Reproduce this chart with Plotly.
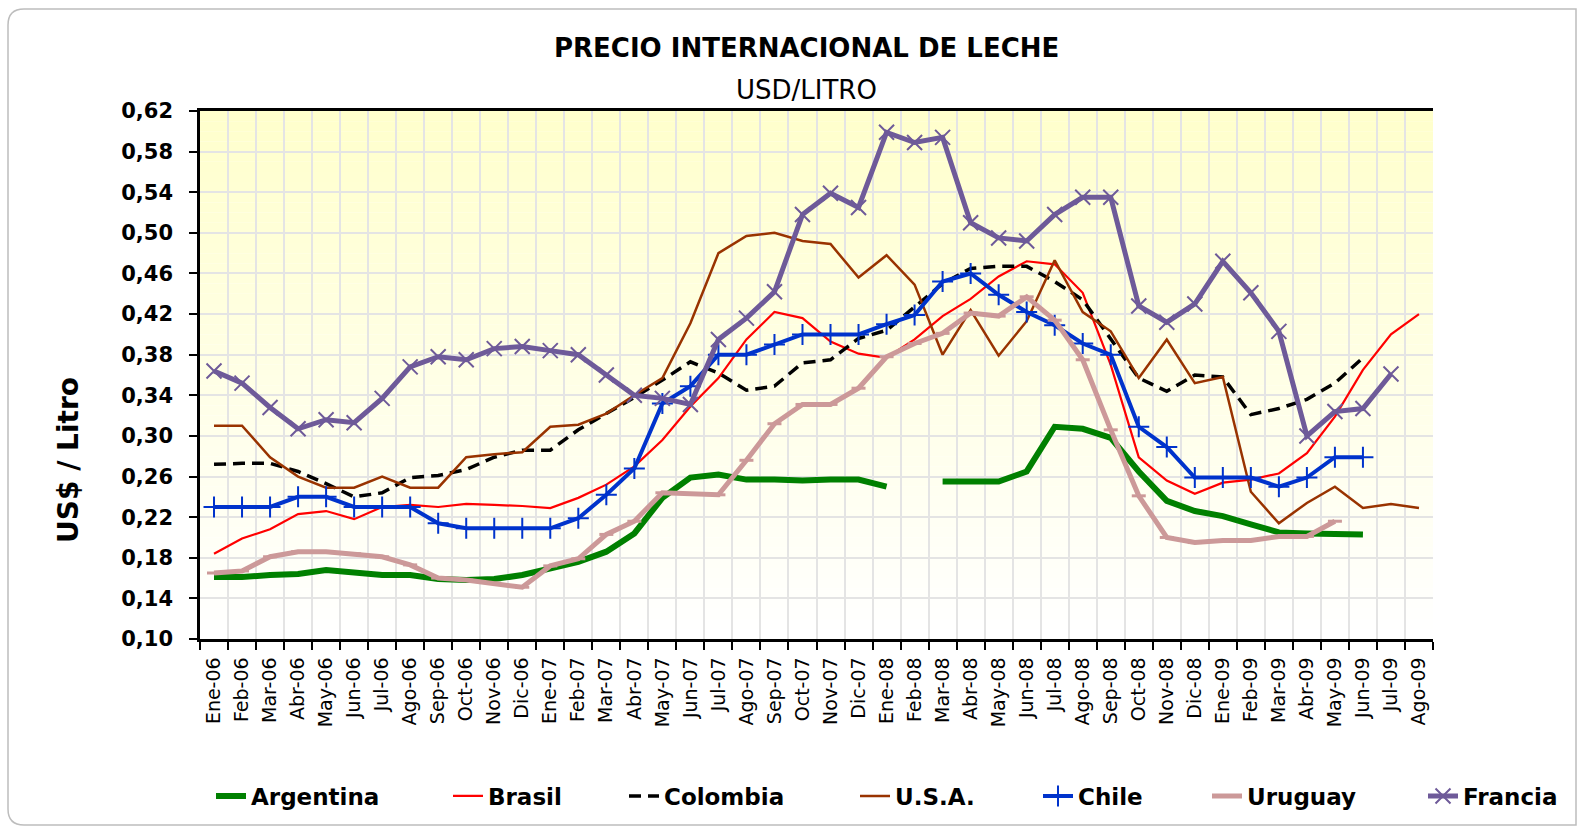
import plotly.graph_objects as go

months = ["Ene-06", "Feb-06", "Mar-06", "Abr-06", "May-06", "Jun-06", "Jul-06", "Ago-06",
          "Sep-06", "Oct-06", "Nov-06", "Dic-06",
          "Ene-07", "Feb-07", "Mar-07", "Abr-07", "May-07", "Jun-07", "Jul-07", "Ago-07",
          "Sep-07", "Oct-07", "Nov-07", "Dic-07",
          "Ene-08", "Feb-08", "Mar-08", "Abr-08", "May-08", "Jun-08", "Jul-08", "Ago-08",
          "Sep-08", "Oct-08", "Nov-08", "Dic-08",
          "Ene-09", "Feb-09", "Mar-09", "Abr-09", "May-09", "Jun-09", "Jul-09", "Ago-09"]

argentina = [0.161, 0.161, 0.163, 0.164, 0.168, 0.166, 0.163, 0.163, 0.159, 0.158, 0.159, 0.163,
             0.169, 0.176, 0.186, 0.204, 0.239, 0.259, 0.262, 0.257, 0.257, 0.256, 0.257, 0.257,
             0.250, None, 0.255, 0.255, 0.255, 0.265, 0.309, 0.307, 0.298, 0.265, 0.236, 0.226,
             0.221, 0.213, 0.205, 0.204, 0.203, 0.203, None, None]
brasil = [0.184, 0.199, 0.208, 0.223, 0.226, 0.218, 0.230, 0.232, 0.230, 0.233, 0.232, 0.231,
          0.229, 0.239, 0.252, 0.270, 0.296, 0.329, 0.357, 0.395, 0.422, 0.416, 0.393, 0.381,
          0.377, 0.395, 0.418, 0.435, 0.457, 0.472, 0.469, 0.441, 0.370, 0.279, 0.256, 0.243,
          0.254, 0.257, 0.263, 0.283, 0.319, 0.365, 0.400, 0.420]
colombia = [0.272, 0.273, 0.273, 0.265, 0.253, 0.240, 0.244, 0.259, 0.261, 0.267, 0.279, 0.286,
            0.286, 0.306, 0.322, 0.338, 0.355, 0.373, 0.362, 0.345, 0.349, 0.372, 0.375, 0.396,
            0.404, 0.427, 0.450, 0.465, 0.467, 0.467, 0.452, 0.434, 0.395, 0.357, 0.344, 0.360,
            0.358, 0.321, 0.327, 0.336, 0.352, 0.377, None, None]
usa = [0.310, 0.310, 0.279, 0.260, 0.249, 0.249, 0.260, 0.249, 0.249, 0.279, 0.282, 0.284,
       0.309, 0.311, 0.322, 0.340, 0.357, 0.411, 0.480, 0.497, 0.500, 0.492, 0.489, 0.456,
       0.478, 0.449, 0.380, 0.424, 0.379, 0.413, 0.473, 0.422, 0.403, 0.357, 0.395, 0.352,
       0.358, 0.245, 0.214, 0.234, 0.250, 0.229, 0.233, 0.229]
chile = [0.230, 0.230, 0.230, 0.240, 0.240, 0.230, 0.230, 0.230, 0.214, 0.209, 0.209, 0.209,
         0.209, 0.219, 0.242, 0.268, 0.332, 0.349, 0.380, 0.380, 0.390, 0.400, 0.400, 0.400,
         0.410, 0.419, 0.452, 0.460, 0.439, 0.422, 0.409, 0.391, 0.380, 0.309, 0.289, 0.259,
         0.259, 0.259, 0.250, 0.259, 0.279, 0.279, None, None]
uruguay = [0.165, 0.167, 0.181, 0.186, 0.186, 0.184, 0.181, 0.173, 0.160, 0.158, 0.155, 0.151,
           0.172, 0.179, 0.203, 0.216, 0.244, 0.243, 0.242, 0.276, 0.312, 0.331, 0.331, 0.347,
           0.378, 0.391, 0.401, 0.421, 0.418, 0.437, 0.414, 0.375, 0.306, 0.241, 0.200, 0.195,
           0.197, 0.197, 0.201, 0.201, 0.216, None, None, None]
francia = [0.364, 0.352, 0.328, 0.307, 0.316, 0.313, 0.337, 0.368, 0.378, 0.375, 0.386, 0.388,
           0.384, 0.380, 0.360, 0.340, 0.337, 0.331, 0.395, 0.416, 0.442, 0.518, 0.539, 0.525,
           0.599, 0.589, 0.594, 0.510, 0.495, 0.492, 0.518, 0.535, 0.535, 0.428, 0.412, 0.430,
           0.472, 0.441, 0.403, 0.300, 0.324, 0.327, 0.361, None]

y_ticks = [0.10, 0.14, 0.18, 0.22, 0.26, 0.30, 0.34, 0.38, 0.42, 0.46, 0.50, 0.54, 0.58, 0.62]
y_min, y_max = 0.10, 0.62

FONT = "DejaVu Sans, Arial, sans-serif"

series = [
    dict(name="Argentina", y=argentina, color="#008000", width=6, dash="solid", marker=None, legend="legend"),
    dict(name="Brasil", y=brasil, color="#FF0000", width=2.2, dash="solid", marker=None, legend="legend2"),
    dict(name="Colombia", y=colombia, color="#000000", width=3.5, dash="12px,7px", marker=None, legend="legend3"),
    dict(name="U.S.A.", y=usa, color="#993300", width=2.5, dash="solid", marker=None, legend="legend4"),
    dict(name="Chile", y=chile, color="#0033CC", width=4, dash="solid",
         marker=dict(symbol="cross-thin", size=15, line=dict(color="#0033CC", width=2)), legend="legend5"),
    dict(name="Uruguay", y=uruguay, color="#CC9999", width=5, dash="solid",
         marker=dict(symbol="line-ew", size=10, line=dict(color="#CC9999", width=3)), legend="legend6"),
    dict(name="Francia", y=francia, color="#6E5A99", width=5, dash="solid",
         marker=dict(symbol="x-thin", size=15, line=dict(color="#6E5A99", width=2)), legend="legend7"),
]

fig = go.Figure()
for s in series:
    kw = dict(x=months, y=s["y"], name=s["name"], connectgaps=False,
              line=dict(color=s["color"], width=s["width"], dash=s["dash"]),
              legend=s["legend"])
    if s["marker"] is not None:
        kw["mode"] = "lines+markers"
        kw["marker"] = dict(color=s["color"], **s["marker"])
    else:
        kw["mode"] = "lines"
    fig.add_trace(go.Scatter(**kw))

# plot-area gradient background (yellow at top, white at bottom)
shapes = []
n_strips = 52
for i in range(n_strips):
    y0 = y_min + (y_max - y_min) * i / n_strips
    y1 = y_min + (y_max - y_min) * (i + 1) / n_strips
    t = (i + 0.5) / n_strips
    b = int(round(255 - 51 * t))
    shapes.append(dict(type="rect", xref="paper", yref="y", x0=0, x1=1, y0=y0, y1=y1,
                       fillcolor=f"rgb(255,255,{b})", line=dict(width=0), layer="below"))

# outer rounded frame (pixel -> paper conversion)
L, R, T, B = 200, 1433, 111, 639
def px(xp):
    return (xp - L) / (R - L)
def py(yp):
    return (B - yp) / (B - T)
x0f, x1f, y0f, y1f, r = 8, 1576, 9, 825, 16
path = (f"M {px(x0f + r)},{py(y0f)} L {px(x1f)},{py(y0f)} L {px(x1f)},{py(y1f)} "
        f"L {px(x0f + r)},{py(y1f)} Q {px(x0f)},{py(y1f)} {px(x0f)},{py(y1f - r)} "
        f"L {px(x0f)},{py(y0f + r)} Q {px(x0f)},{py(y0f)} {px(x0f + r)},{py(y0f)} Z")
shapes.append(dict(type="path", xref="paper", yref="paper", path=path,
                   line=dict(color="#BDBDBD", width=1.5), layer="below"))

annotations = [
    dict(text="<b>PRECIO INTERNACIONAL DE LECHE</b>", xref="paper", yref="paper",
         x=px(806), y=py(48), xanchor="center", yanchor="middle", showarrow=False,
         font=dict(family=FONT, size=26, color="#000000")),
    dict(text="USD/LITRO", xref="paper", yref="paper",
         x=px(806), y=py(90), xanchor="center", yanchor="middle", showarrow=False,
         font=dict(family=FONT, size=26, color="#000000")),
    dict(text="<b>US$ / Litro</b>", xref="paper", yref="paper", textangle=-90,
         x=px(68), y=py(460), xanchor="center", yanchor="middle", showarrow=False,
         font=dict(family=FONT, size=28, color="#000000")),
]

axis_common = dict(range=[y_min, y_max], tickvals=y_ticks, tickformat=".2f",
                   ticks="outside", ticklen=8, tickwidth=2, tickcolor="#000000",
                   showline=True, linecolor="#000000", linewidth=2.5,
                   tickfont=dict(family=FONT, size=21, color="#000000", weight="bold"),
                   zeroline=False, ticklabelstandoff=12)

legend_text_x = [251, 488, 664, 895, 1078, 1247, 1463]
legend_keys = ["legend", "legend2", "legend3", "legend4", "legend5", "legend6", "legend7"]
legend_layout = {}
for key, tx in zip(legend_keys, legend_text_x):
    legend_layout[key] = dict(x=px(tx - 40), y=py(796), xanchor="left", yanchor="middle",
                              orientation="h", bgcolor="rgba(0,0,0,0)",
                              font=dict(family=FONT, size=23, color="#000000", weight="bold"))

fig.update_layout(
    width=1577, height=828,
    margin=dict(l=L, r=1577 - R, t=T, b=828 - B, autoexpand=False),
    paper_bgcolor="#FFFFFF", plot_bgcolor="#FFFFFF",
    separators=",.",
    showlegend=True,
    shapes=shapes,
    annotations=annotations,
    xaxis=dict(type="category", categoryorder="array", categoryarray=months,
               range=[-0.5, len(months) - 0.5], tickson="boundaries",
               ticks="outside", ticklen=8, tickwidth=2, tickcolor="#000000",
               showline=True, linecolor="#000000", linewidth=2.5, mirror=True,
               showgrid=True, gridcolor="#E4E4E4", gridwidth=2,
               tickangle=-90, ticklabelstandoff=8,
               tickfont=dict(family=FONT, size=19, color="#000000")),
    yaxis=dict(side="left", showgrid=True, gridcolor="#E4E4E4", gridwidth=2, **axis_common),
    yaxis2=dict(side="right", overlaying="y", showgrid=False, **axis_common),
    **legend_layout,
)

fig.write_html("out.html", config={"displayModeBar": False},
               post_script="document.body.style.margin='0px';")
